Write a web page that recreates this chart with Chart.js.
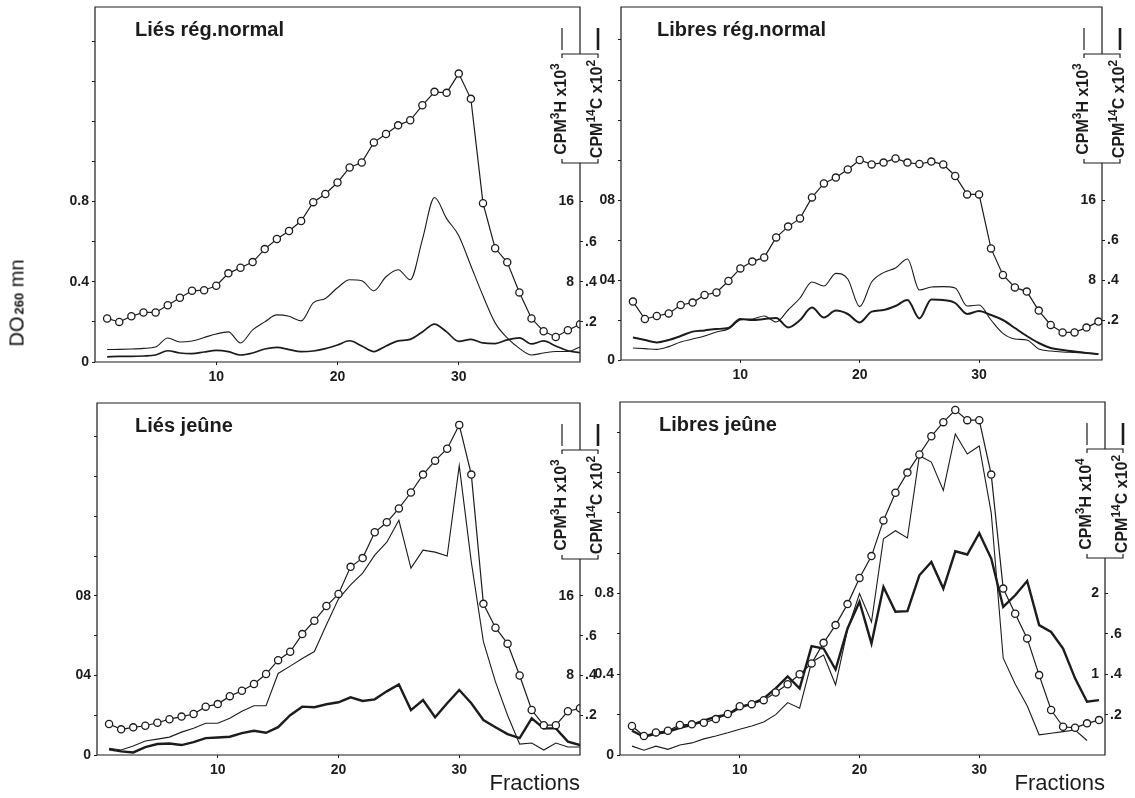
<!DOCTYPE html>
<html lang="fr">
<head>
<meta charset="utf-8">
<title>DO 260 mn - fractions</title>
<script src="https://cdn.jsdelivr.net/npm/chart.js"></script>
<style>
  html, body { margin: 0; padding: 0; background: #fff; }
  body { position: relative; width: 1135px; height: 798px; overflow: hidden; }
  .panel { position: absolute; }
  #doLabel {
    position: absolute; left: 17px; top: 303px;
    transform: translate(-50%, -50%) rotate(-90deg);
    white-space: nowrap; color: #111;
    font: 20px "Liberation Sans", Arial, sans-serif;
  }
  #doLabel span { font-size: 13px; font-weight: bold; margin-left: 2px; }
</style>
</head>
<body>
<div class="panel" style="left:0;top:0;width:612px;height:395px"><canvas id="p0"></canvas></div>
<div class="panel" style="left:594px;top:0;width:541px;height:395px"><canvas id="p1"></canvas></div>
<div class="panel" style="left:0;top:395px;width:612px;height:403px"><canvas id="p2"></canvas></div>
<div class="panel" style="left:594px;top:395px;width:541px;height:403px"><canvas id="p3"></canvas></div>
<div id="doLabel">DO<span>260</span> mn</div>

<script>
// fractions collected
const fractions = [1,2,3,4,5,6,7,8,9,10,11,12,13,14,15,16,17,18,19,20,
                   21,22,23,24,25,26,27,28,29,30,31,32,33,34,35,36,37,38,39,40];

// Liés rég. normal
const doLiesNormal = [0.217,0.200,0.228,0.247,0.247,0.283,0.320,0.355,0.358,0.380,
                      0.442,0.470,0.498,0.563,0.613,0.653,0.703,0.797,0.838,0.895,
                      0.970,0.995,1.095,1.137,1.180,1.205,1.280,1.347,1.342,1.438,
                      1.312,0.792,0.567,0.497,0.347,0.217,0.153,0.125,0.158,0.188];
const h3LiesNormal = [1.24,1.26,1.30,1.36,1.50,2.40,2.00,2.10,2.44,2.80,
                      3.00,1.90,3.20,4.00,4.70,4.56,4.10,5.90,6.34,7.40,
                      8.20,8.10,7.10,8.50,9.20,8.20,12.2,16.4,14.3,12.6,
                      9.60,6.60,3.90,2.40,1.36,0.70,0.90,1.04,1.04,1.50];
const c14LiesNormal = [0.026,0.028,0.028,0.030,0.035,0.056,0.045,0.042,0.050,0.058,
                       0.052,0.035,0.045,0.065,0.073,0.062,0.052,0.055,0.067,0.085,
                       0.106,0.080,0.052,0.080,0.105,0.113,0.150,0.189,0.150,0.103,
                       0.113,0.095,0.092,0.110,0.120,0.090,0.105,0.080,0.056,0.046];

// Libres rég. normal
const doLibresNormal = [0.292,0.205,0.220,0.233,0.275,0.287,0.325,0.338,0.395,0.458,
                        0.492,0.513,0.613,0.667,0.708,0.813,0.883,0.912,0.953,1.000,
                        0.978,0.987,1.008,0.987,0.980,0.992,0.978,0.920,0.828,0.828,
                        0.558,0.425,0.363,0.342,0.247,0.175,0.138,0.138,0.162,0.192];
const h3LibresNormal = [1.20,1.14,1.06,1.34,1.80,2.10,2.40,2.80,3.10,4.00,
                        4.10,4.40,3.80,5.00,6.20,7.80,7.40,8.66,8.10,5.34,
                        7.80,8.74,9.20,10.1,7.00,7.30,7.34,7.20,5.40,5.50,
                        4.00,2.66,2.10,2.00,1.10,0.90,0.80,0.76,0.70,0.60];
const c14LibresNormal = [0.113,0.100,0.088,0.100,0.120,0.142,0.148,0.155,0.160,0.205,
                         0.200,0.205,0.210,0.163,0.200,0.262,0.212,0.247,0.230,0.188,
                         0.242,0.250,0.270,0.300,0.208,0.303,0.300,0.285,0.230,0.245,
                         0.225,0.200,0.160,0.120,0.085,0.060,0.050,0.042,0.035,0.030];

// Liés jeûne
const doLiesJeune = [0.156,0.129,0.139,0.147,0.162,0.180,0.193,0.206,0.243,0.256,
                     0.296,0.323,0.357,0.407,0.477,0.519,0.608,0.675,0.749,0.810,
                     0.946,0.990,1.120,1.170,1.240,1.320,1.410,1.480,1.540,1.660,
                     1.410,0.760,0.640,0.560,0.400,0.226,0.150,0.150,0.220,0.235];
const h3LiesJeune = [0.68,0.50,0.90,1.40,1.60,1.80,2.30,2.70,3.20,3.20,
                     3.70,4.40,4.96,4.96,8.20,8.94,9.70,10.4,13.1,15.7,
                     17.1,18.3,20.1,21.4,23.6,18.8,20.6,20.4,20.0,29.1,
                     19.4,11.4,7.36,4.00,1.10,1.20,0.50,1.20,0.80,0.80];
const c14LiesJeune = [0.028,0.018,0.013,0.040,0.055,0.058,0.050,0.065,0.085,0.088,
                      0.092,0.110,0.122,0.112,0.140,0.200,0.243,0.240,0.255,0.265,
                      0.290,0.272,0.280,0.320,0.355,0.226,0.276,0.190,0.260,0.327,
                      0.260,0.176,0.140,0.105,0.085,0.184,0.134,0.134,0.067,0.050];

// Libres jeûne
const doLibresJeune = [0.144,0.094,0.112,0.120,0.149,0.152,0.160,0.178,0.203,0.242,
                       0.252,0.272,0.310,0.351,0.400,0.454,0.556,0.644,0.748,0.878,
                       0.986,1.163,1.300,1.400,1.490,1.580,1.650,1.710,1.660,1.660,
                       1.390,0.825,0.700,0.578,0.396,0.223,0.140,0.135,0.157,0.173];
const h3LibresJeune = [0.11,0.06,0.11,0.07,0.125,0.15,0.20,0.235,0.275,0.32,
                       0.36,0.41,0.50,0.65,0.58,1.15,1.24,0.87,1.55,2.00,
                       1.65,2.68,2.78,2.69,3.71,3.63,3.28,3.98,3.73,3.83,
                       3.00,1.20,0.88,0.61,0.25,0.27,0.29,0.31,0.18,null];
const c14LibresJeune = [0.120,0.090,0.105,0.115,0.135,0.150,0.170,0.190,0.200,0.235,
                        0.255,0.280,0.330,0.390,0.330,0.540,0.528,0.424,0.627,0.760,
                        0.553,0.833,0.710,0.713,0.891,0.957,0.825,1.010,0.994,1.100,
                        0.974,0.734,0.792,0.863,0.644,0.610,0.528,0.380,0.264,0.272];

// tick labels
const xTickValues = [10, 20, 30];
const doTickValues = [0, 0.2, 0.4, 0.6, 0.8, 1.0, 1.2, 1.4, 1.6];
const doLabelValues = [0, 0.4, 0.8];
const doTickText = [['0','0.4','0.8'], ['0','04','08'], ['0','04','08'], ['0','0.4','0.8']];
const h3TickValues = [[8, 16], [8, 16], [8, 16], [1, 2]];
const h3TickText = [['8','16'], ['8','16'], ['8','16'], ['1','2']];
const c14TickValues = [0.2, 0.4, 0.6, 0.8];
const c14TickText = ['.2', '.4', '.6', ''];

const ink = '#1c1c1c';
Chart.defaults.font.family = '"Liberation Sans Narrow", "Liberation Sans", Arial, sans-serif';
Chart.defaults.color = ink;
const tickFont = { size: 14, weight: 'bold' };

// fixed axis sizes, no extra room for overhanging labels
function fixSize(size, horizontal) {
  return s => {
    if (horizontal) s.height = size; else s.width = size;
    s.paddingTop = 0; s.paddingBottom = 0; s.paddingLeft = 0; s.paddingRight = 0;
  };
}

// text with raised parts, centred on (0,0)
function drawParts(ctx, parts, size) {
  const big = 'bold ' + size + 'px "Liberation Sans", Arial, sans-serif';
  const small = 'bold ' + Math.round(size * 0.78) + 'px "Liberation Sans", Arial, sans-serif';
  let w = 0;
  parts.forEach(p => { ctx.font = p[1] ? small : big; w += ctx.measureText(p[0]).width; });
  let x = -w / 2;
  ctx.textAlign = 'left';
  ctx.textBaseline = 'middle';
  parts.forEach(p => {
    ctx.font = p[1] ? small : big;
    ctx.fillText(p[0], x, p[1] ? -size * 0.42 : 0);
    x += ctx.measureText(p[0]).width;
  });
}

const panelFrame = {
  id: 'panelFrame',
  afterDatasetsDraw(chart, args, o) {
    const { ctx, chartArea: a } = chart;
    const r = a.right, t = a.top, half = 18;
    const bTop = t + 47, bBot = t + 156;
    ctx.save();
    ctx.strokeStyle = ink;
    ctx.lineWidth = 1.2;
    ctx.beginPath();
    ctx.moveTo(a.left, a.bottom); ctx.lineTo(a.left, t); ctx.lineTo(r, t); ctx.lineTo(r, bTop);
    ctx.moveTo(r - half, bTop + 4); ctx.lineTo(r - half, bTop); ctx.lineTo(r + half, bTop); ctx.lineTo(r + half, bTop + 4);
    ctx.moveTo(r - half, bBot - 4); ctx.lineTo(r - half, bBot); ctx.lineTo(r + half, bBot); ctx.lineTo(r + half, bBot - 4);
    ctx.moveTo(r, bBot); ctx.lineTo(r, a.bottom); ctx.lineTo(a.left, a.bottom);
    ctx.stroke();

    // line keys above the bracket
    ctx.beginPath(); ctx.lineWidth = 1.2;
    ctx.moveTo(r - half, t + 21); ctx.lineTo(r - half, t + 43); ctx.stroke();
    ctx.beginPath(); ctx.lineWidth = 2.6;
    ctx.moveTo(r + half, t + 21); ctx.lineTo(r + half, t + 43); ctx.stroke();

    ctx.fillStyle = ink;
    [[r - half, o.h3Label], [r + half, o.c14Label]].forEach(([x, parts]) => {
      ctx.save();
      ctx.translate(x, t + 102);
      ctx.rotate(-Math.PI / 2);
      drawParts(ctx, parts, 16);
      ctx.restore();
    });

    ctx.font = 'bold 20px "Liberation Sans", Arial, sans-serif';
    ctx.textAlign = 'left';
    ctx.textBaseline = 'alphabetic';
    ctx.fillText(o.title, a.left + o.titleDx, t + 29);
    ctx.restore();
  }
};

const panels = [
  { id: 'p0', title: 'Liés rég.normal', doV: doLiesNormal, h3V: h3LiesNormal, c14V: c14LiesNormal,
    padTop: 7, yW: 95, rW: 32, xH: 33, xMax: 40, yMax: 1.77, h3Per: 20, smooth: true, thick: 1.7,
    titleDx: 40, exp: '3', fractions: false },
  { id: 'p1', title: 'Libres rég.normal', doV: doLibresNormal, h3V: h3LibresNormal, c14V: c14LibresNormal,
    padTop: 7, yW: 27, rW: 33, xH: 35, xMax: 40.3, yMax: 1.765, h3Per: 20, smooth: true, thick: 2.0,
    titleDx: 36, exp: '3', fractions: false },
  { id: 'p2', title: 'Liés jeûne', doV: doLiesJeune, h3V: h3LiesJeune, c14V: c14LiesJeune,
    padTop: 8, yW: 97, rW: 32, xH: 43, xMax: 40, yMax: 1.77, h3Per: 20, smooth: false, thick: 2.4,
    titleDx: 38, exp: '3', fractions: true },
  { id: 'p3', title: 'Libres jeûne', doV: doLibresJeune, h3V: h3LibresJeune, c14V: c14LibresJeune,
    padTop: 7, yW: 26, rW: 30, xH: 43, xMax: 40.5, yMax: 1.75, h3Per: 2.5, smooth: false, thick: 2.4,
    titleDx: 39, exp: '4', fractions: true }
];

const pts = arr => fractions.map((f, k) => ({ x: f, y: arr[k] }));

panels.forEach((p, i) => {
  const grid = { drawOnChartArea: false, drawTicks: true, tickLength: 3, color: ink, lineWidth: 1 };
  const curve = p.smooth ? { cubicInterpolationMode: 'monotone' } : { tension: 0 };
  new Chart(document.getElementById(p.id), {
    type: 'line',
    data: {
      datasets: [
        { label: 'DO 260 mn', data: pts(p.doV), yAxisID: 'y', borderColor: ink, borderWidth: 1.2,
          pointRadius: 3.6, pointBackgroundColor: '#fff', pointBorderColor: ink, pointBorderWidth: 1.3, tension: 0 },
        Object.assign({ label: 'CPM 3H', data: pts(p.h3V), yAxisID: 'yH', borderColor: ink, borderWidth: 1.1,
          pointRadius: 0 }, curve),
        Object.assign({ label: 'CPM 14C', data: pts(p.c14V), yAxisID: 'yC', borderColor: ink, borderWidth: p.thick,
          pointRadius: 0 }, curve)
      ]
    },
    options: {
      responsive: true,
      maintainAspectRatio: false,
      animation: false,
      layout: { padding: { top: p.padTop, left: 0, right: 0, bottom: 0 } },
      plugins: {
        legend: { display: false },
        tooltip: { enabled: false },
        panelFrame: {
          title: p.title,
          titleDx: p.titleDx,
          h3Label: [['CPM', 0], ['3', 1], ['H x10', 0], [p.exp, 1]],
          c14Label: [['CPM', 0], ['14', 1], ['C x10', 0], ['2', 1]]
        }
      },
      scales: {
        x: {
          type: 'linear', min: 0, max: p.xMax,
          border: { display: false }, grid,
          afterBuildTicks: s => { s.ticks = xTickValues.map(v => ({ value: v })); },
          afterFit: fixSize(p.xH, true),
          ticks: { font: tickFont, color: ink, padding: 4, maxRotation: 0, autoSkip: false, callback: v => String(v) },
          title: { display: p.fractions, text: 'Fractions', align: 'end', color: ink,
                   font: { size: 22, family: '"Liberation Sans", Arial, sans-serif' }, padding: { top: 0, bottom: 1 } }
        },
        y: {
          min: 0, max: p.yMax,
          border: { display: false }, grid,
          afterBuildTicks: s => { s.ticks = doTickValues.map(v => ({ value: v })); },
          afterFit: fixSize(p.yW, false),
          ticks: { font: tickFont, color: ink, padding: 3, autoSkip: false,
                   callback: v => { const k = doLabelValues.indexOf(v); return k < 0 ? '' : doTickText[i][k]; } }
        },
        yH: {
          position: 'right', min: 0, max: p.yMax * p.h3Per,
          border: { display: false }, grid: { display: false },
          afterBuildTicks: s => { s.ticks = h3TickValues[i].map(v => ({ value: v })); },
          afterFit: fixSize(0, false),
          ticks: { mirror: true, padding: -6, font: tickFont, color: ink, autoSkip: false,
                   callback: v => h3TickText[i][h3TickValues[i].indexOf(v)] }
        },
        yC: {
          position: 'right', min: 0, max: p.yMax,
          border: { display: false }, grid,
          afterBuildTicks: s => { s.ticks = c14TickValues.map(v => ({ value: v })); },
          afterFit: fixSize(p.rW, false),
          ticks: { font: tickFont, color: ink, padding: 2, autoSkip: false,
                   callback: v => c14TickText[c14TickValues.indexOf(v)] }
        }
      }
    },
    plugins: [panelFrame]
  });
});
</script>
</body>
</html>
